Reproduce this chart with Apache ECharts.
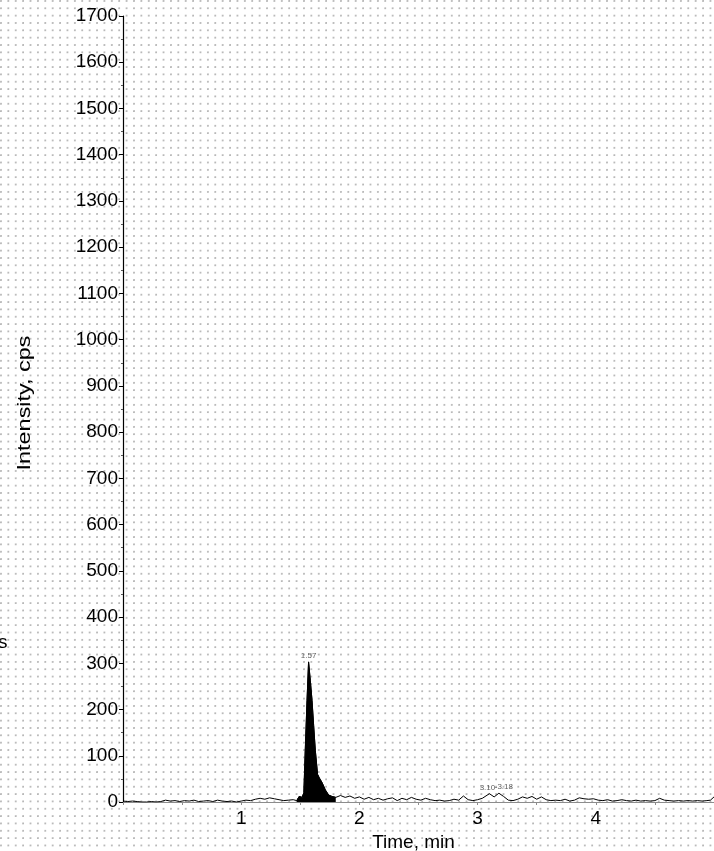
<!DOCTYPE html>
<html>
<head>
<meta charset="utf-8">
<script src="https://cdn.jsdelivr.net/npm/echarts@6/dist/echarts.min.js"></script>
<style>
html,body{margin:0;padding:0;width:714px;height:851px;overflow:hidden;background:#fff;}
body{background-image:radial-gradient(circle at 1px 1px,#b8b8b8 0.7px,rgba(255,255,255,0) 1.1px);background-size:7.4px 7.35px;}
#chart{width:714px;height:851px;}
</style>
</head>
<body>
<div id="chart"></div>
<script>
// Chromatogram trace (time in min, intensity in cps)
var times = [0.00,0.04,0.08,0.12,0.16,0.20,0.24,0.28,0.32,0.36,0.40,0.44,0.48,0.52,0.56,0.60,0.64,0.68,0.72,0.76,0.80,0.84,0.88,0.92,0.96,1.00,1.04,1.08,1.12,1.16,1.20,1.24,1.28,1.32,1.36,1.40,1.44,1.47,1.49,1.50,1.515,1.53,1.542,1.557,1.570,1.585,1.599,1.613,1.627,1.646,1.661,1.684,1.712,1.740,1.768,1.80,1.84,1.88,1.92,1.96,2.00,2.04,2.08,2.12,2.16,2.20,2.24,2.28,2.32,2.36,2.40,2.44,2.48,2.52,2.56,2.60,2.64,2.68,2.72,2.76,2.80,2.84,2.88,2.92,2.96,3.00,3.04,3.10,3.14,3.18,3.22,3.26,3.30,3.34,3.38,3.42,3.46,3.50,3.54,3.58,3.62,3.66,3.70,3.74,3.78,3.82,3.86,3.90,3.94,3.98,4.02,4.06,4.10,4.14,4.18,4.22,4.26,4.30,4.34,4.38,4.42,4.46,4.50,4.54,4.58,4.62,4.66,4.70,4.74,4.78,4.82,4.86,4.90,4.94,4.97,5.00];
var intensity = [2,1,2,1,0,0,1,0,1,4,2,3,1,3,2,4,1,2,3,1,4,2,1,2,0,2,4,3,6,8,6,9,7,5,3,4,5,3,12,14,10,20,112,220,303,262,220,165,112,60,52,42,26,15,12,10,14,10,13,8,11,6,10,5,8,4,7,9,3,8,5,10,6,4,8,5,3,4,2,3,6,4,13,5,3,5,8,18,11,19,12,4,3,6,11,8,12,6,11,5,3,4,3,6,2,4,9,7,6,7,4,3,5,2,3,5,3,2,4,2,3,2,3,8,4,3,2,3,2,3,2,3,2,3,4,11];
// Integrated (filled) peak window
var fillStart = 1.47, fillEnd = 1.80;
// Peak apex labels
var peakLabelTimes = [1.57, 3.10, 3.18];
var peakLabelValues = [303, 18, 19];
var peakLabelTexts = ['1.57', '3.10', '-3.18'];
var yTicks = [0,100,200,300,400,500,600,700,800,900,1000,1100,1200,1300,1400,1500,1600,1700];
var xTickLabels = ['1','2','3','4'];
var xTitle = 'Time, min';
var yTitle = 'Intensity, cps';

var trace = times.map(function(t,i){return [t,intensity[i]];});
var filled = trace.filter(function(p){return p[0]>=fillStart && p[0]<=fillEnd;});
var labelOffsets = [[0,0],[-2,0],[5,0]];
var labels = peakLabelTimes.map(function(t,i){return {value:[t,peakLabelValues[i]], name:peakLabelTexts[i], label:{offset:labelOffsets[i]}};});

var chart = echarts.init(document.getElementById('chart'), null, {renderer:'canvas'});
var font = '"Liberation Sans", Arial, sans-serif';
chart.setOption({
  animation:false,
  backgroundColor:'transparent',
  grid:{left:123, right:0, top:16, bottom:49, containLabel:false, outerBoundsMode:'none'},
  xAxis:{
    type:'value', min:0, max:5, interval:0.5,
    axisLine:{show:true, lineStyle:{color:'#8c8c8c', width:1}},
    axisTick:{show:true, length:3, lineStyle:{color:'#8c8c8c'}},
    minorTick:{show:false},
    splitLine:{show:false},
    axisLabel:{
      margin:7, color:'#000', fontSize:19, fontFamily:font,
      formatter:function(v){var s=String(v); return xTickLabels.indexOf(s)>=0 ? s : '';}
    },
    name:xTitle, nameLocation:'middle', nameGap:29,
    nameTextStyle:{color:'#000', fontSize:19, fontFamily:font, padding:[0,10,0,0]}
  },
  yAxis:{
    type:'value', min:0, max:1700, interval:100,
    axisLine:{show:true, lineStyle:{color:'#000', width:1.2}},
    axisTick:{show:true, length:4, lineStyle:{color:'#000'}},
    minorTick:{show:true, splitNumber:2, length:2, lineStyle:{color:'#555'}},
    splitLine:{show:false},
    axisLabel:{margin:5, color:'#000', fontSize:19, fontFamily:font,
      formatter:function(v){return yTicks.indexOf(v)>=0 ? String(v) : '';}}
  },
  graphic:[
    {type:'text', x:25, y:403, rotation:Math.PI/2, scaleX:1.3,
     style:{text:yTitle, fontSize:18, fontFamily:font, fill:'#000', align:'center', verticalAlign:'middle'}},
    {type:'text', left:-2, top:633, style:{text:'s', fontSize:19, fontFamily:font, fill:'#000'}}
  ],
  series:[
    {type:'line', data:filled, symbol:'none', lineStyle:{width:1, color:'#000'},
     areaStyle:{color:'#000', opacity:1}, z:2},
    {type:'line', data:trace, symbol:'none', lineStyle:{width:1, color:'#000'}, z:3},
    {type:'scatter', data:labels, symbolSize:0, z:4,
     label:{show:true, position:'top', distance:2, formatter:function(p){return p.name;},
       fontSize:8, color:'#333', fontFamily:font}}
  ]
});
</script>
</body>
</html>
